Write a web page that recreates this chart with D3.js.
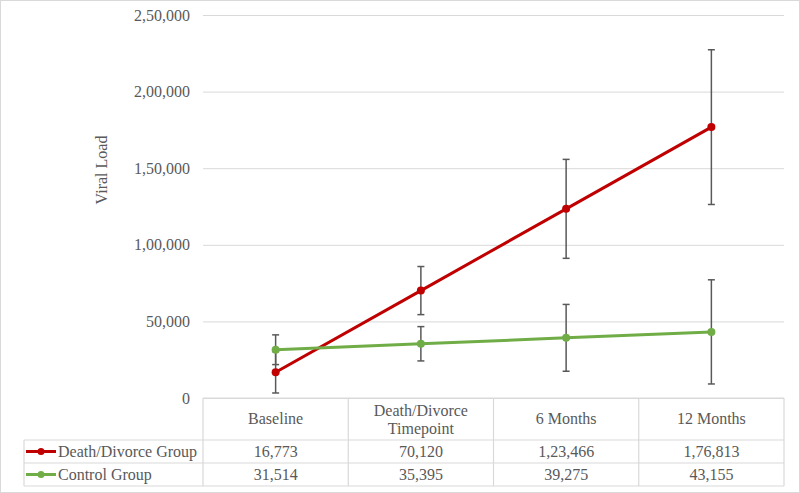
<!DOCTYPE html>
<html>
<head>
<meta charset="utf-8">
<script src="https://cdn.jsdelivr.net/npm/d3@7"></script>
<style>
  body { margin: 0; background: #fff; }
  svg { display: block; font-family: "Liberation Serif", "Times New Roman", serif; }
</style>
</head>
<body>
<div id="chart"></div>
<script>
var width = 800;
var height = 493;

// data
var categories = ['Baseline', 'Death/Divorce Timepoint', '6 Months', '12 Months'];
var headerLines = [['Baseline'], ['Death/Divorce', 'Timepoint'], ['6 Months'], ['12 Months']];
var seriesNames = ['Death/Divorce Group', 'Control Group'];
var deathValues = [16773, 70120, 123466, 176813];
var controlValues = [31514, 35395, 39275, 43155];
var deathErrors = [13500, 15700, 32300, 50500];
var controlErrors = [9700, 11200, 21800, 34000];
var yTicks = [0, 50000, 100000, 150000, 200000, 250000];
var seriesColors = ['#C00000', '#70AD47'];

var textColor = '#595959';
var gridColor = '#D9D9D9';

var plotLeft = 203, plotRight = 784, plotTop = 15, plotBottom = 398;
var headerBottom = 440, row1Bottom = 463, row2Bottom = 486, tableLeft = 24;

// indian style grouping: 2,50,000
function indFormat(n) {
  var s = String(Math.round(n));
  if (s.length <= 3) return s;
  var last3 = s.slice(-3);
  var rest = s.slice(0, -3);
  rest = rest.replace(/\B(?=(\d{2})+(?!\d))/g, ',');
  return rest + ',' + last3;
}

var svg = d3.select('#chart').append('svg')
    .attr('width', width)
    .attr('height', height);

// chart border
svg.append('rect')
    .attr('x', 0.5).attr('y', 0.5)
    .attr('width', width - 1).attr('height', height - 1)
    .attr('fill', '#fff')
    .attr('stroke', gridColor);

var x = d3.scaleBand()
    .domain(categories)
    .range([plotLeft, plotRight]);

var y = d3.scaleLinear()
    .domain([0, 250000])
    .range([plotBottom, plotTop]);

// gridlines + tick labels
var yAxis = svg.append('g')
    .attr('transform', 'translate(' + plotLeft + ',0)')
    .call(d3.axisLeft(y)
        .tickValues(yTicks)
        .tickSize(-(plotRight - plotLeft))
        .tickPadding(13)
        .tickFormat(indFormat));
yAxis.select('.domain').remove();
yAxis.selectAll('line').attr('stroke', gridColor).attr('stroke-width', 1);
yAxis.selectAll('text')
    .attr('fill', textColor)
    .style('font-size', '16px')
    .style('font-family', '"Liberation Serif", serif');

// y axis title
svg.append('text')
    .attr('transform', 'translate(107,170) rotate(-90)')
    .attr('text-anchor', 'middle')
    .attr('fill', textColor)
    .style('font-size', '16px')
    .text('Viral Load');

// data table
var table = svg.append('g').attr('stroke', gridColor).attr('stroke-width', 1.2).attr('fill', 'none');
table.append('line').attr('x1', plotLeft).attr('x2', plotRight).attr('y1', plotBottom).attr('y2', plotBottom);
[headerBottom, row1Bottom, row2Bottom].forEach(function(yy) {
  table.append('line').attr('x1', tableLeft).attr('x2', plotRight).attr('y1', yy).attr('y2', yy);
});
table.append('line').attr('x1', tableLeft).attr('x2', tableLeft).attr('y1', headerBottom).attr('y2', row2Bottom);
categories.forEach(function(c) {
  table.append('line').attr('x1', x(c)).attr('x2', x(c)).attr('y1', plotBottom).attr('y2', row2Bottom);
});
table.append('line').attr('x1', plotRight).attr('x2', plotRight).attr('y1', plotBottom).attr('y2', row2Bottom);

// header labels
categories.forEach(function(c, i) {
  var lines = headerLines[i];
  var t = svg.append('text')
      .attr('text-anchor', 'middle')
      .attr('fill', textColor)
      .style('font-size', '16px');
  lines.forEach(function(l, j) {
    var yy = lines.length === 1 ? 424 : 416 + j * 18;
    t.append('tspan').attr('x', x(c) + x.bandwidth() / 2).attr('y', yy).text(l);
  });
});

var allValues = [deathValues, controlValues];
var rowMid = [(headerBottom + row1Bottom) / 2, (row1Bottom + row2Bottom) / 2];

allValues.forEach(function(vals, s) {
  svg.selectAll('.val' + s)
      .data(vals)
      .enter().append('text')
      .attr('class', 'val' + s)
      .attr('x', function(d, i) { return x(categories[i]) + x.bandwidth() / 2; })
      .attr('y', rowMid[s] + 5.5)
      .attr('text-anchor', 'middle')
      .attr('fill', textColor)
      .style('font-size', '16px')
      .text(indFormat);

  // legend key in table
  svg.append('line')
      .attr('x1', 26).attr('x2', 56)
      .attr('y1', rowMid[s]).attr('y2', rowMid[s])
      .attr('stroke', seriesColors[s]).attr('stroke-width', 3);
  svg.append('circle')
      .attr('cx', 41).attr('cy', rowMid[s]).attr('r', 3.5)
      .attr('fill', seriesColors[s]);
  svg.append('text')
      .attr('x', 58).attr('y', rowMid[s] + 5.5)
      .attr('fill', textColor)
      .style('font-size', '16px')
      .text(seriesNames[s]);
});

var cx = function(d, i) { return x(categories[i]) + x.bandwidth() / 2; };
var line = d3.line()
    .x(cx)
    .y(function(d) { return y(d); });

// error bars
var allErrors = [deathErrors, controlErrors];
allValues.forEach(function(vals, s) {
  var g = svg.append('g').attr('stroke', '#595959').attr('stroke-width', 1.5);
  vals.forEach(function(v, i) {
    var px = cx(v, i);
    var top = y(v + allErrors[s][i]);
    var bot = y(Math.max(0, v - allErrors[s][i]));
    g.append('line').attr('x1', px).attr('x2', px).attr('y1', top).attr('y2', bot);
    g.append('line').attr('x1', px - 3.5).attr('x2', px + 3.5).attr('y1', top).attr('y2', top);
    g.append('line').attr('x1', px - 3.5).attr('x2', px + 3.5).attr('y1', bot).attr('y2', bot);
  });
});

// lines and markers
allValues.forEach(function(vals, s) {
  svg.append('path')
      .datum(vals)
      .attr('d', line)
      .attr('fill', 'none')
      .attr('stroke', seriesColors[s])
      .attr('stroke-width', 3);
  svg.selectAll('.pt' + s)
      .data(vals)
      .enter().append('circle')
      .attr('class', 'pt' + s)
      .attr('cx', cx)
      .attr('cy', function(d) { return y(d); })
      .attr('r', 4)
      .attr('fill', seriesColors[s]);
});
</script>
</body>
</html>
